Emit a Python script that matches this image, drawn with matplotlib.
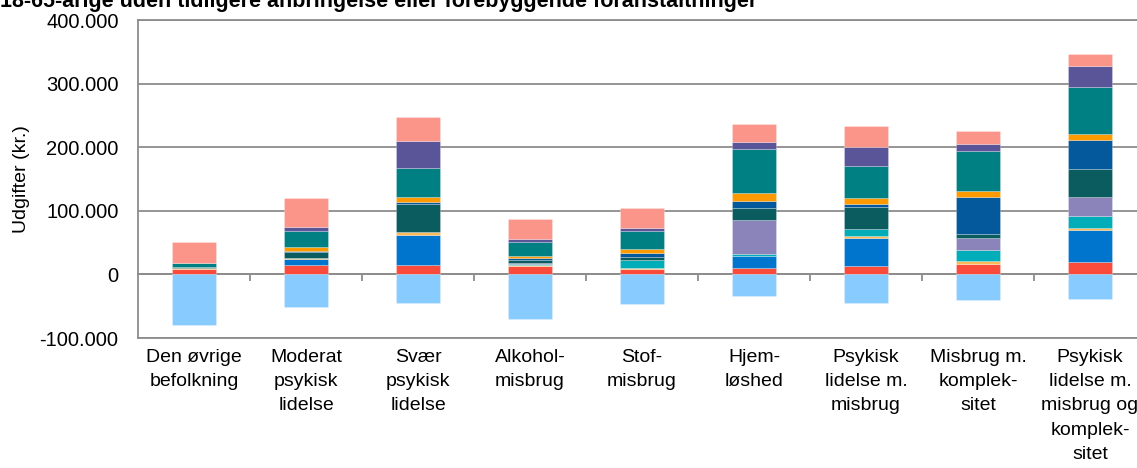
import numpy as np
import matplotlib
matplotlib.use('Agg')
import matplotlib.pyplot as plt
from matplotlib.ticker import FuncFormatter

plt.rcParams['font.family'] = ['Liberation Sans', 'DejaVu Sans']

categories = ['Den øvrige\nbefolkning', 'Moderat\npsykisk\nlidelse', 'Svær\npsykisk\nlidelse',
              'Alkohol-\nmisbrug', 'Stof-\nmisbrug', 'Hjem-\nløshed',
              'Psykisk\nlidelse m.\nmisbrug', 'Misbrug m.\nkomplek-\nsitet',
              'Psykisk\nlidelse m.\nmisbrug og\nkomplek-\nsitet']

# expenses per person in 1000 kr., stacked from the bottom up
red      = [7.9, 14.6, 14.2, 12.5, 8.5, 10.6, 13.1, 16.9, 20.0]
blue     = [0.5, 10.0, 47.6, 0.5, 0.5, 17.8, 44.0, 0.0, 49.9]
yellow   = [1.0, 1.5, 4.7, 1.0, 1.0, 0.0, 3.3, 4.0, 3.7]
cyan     = [0.5, 0.0, 0.0, 2.5, 12.5, 3.1, 10.5, 18.0, 18.3]
lavender = [0.5, 0.0, 0.0, 1.5, 0.5, 54.8, 1.0, 17.8, 29.5]
darkteal = [1.5, 8.5, 44.0, 5.2, 5.0, 17.4, 34.0, 7.4, 44.1]
darkblue = [0.0, 1.6, 2.7, 2.2, 5.5, 11.0, 4.8, 57.8, 45.3]
orange   = [0.5, 6.2, 8.3, 3.6, 6.2, 12.6, 9.5, 9.5, 10.0]
teal     = [5.3, 25.6, 46.0, 21.4, 29.2, 69.4, 51.0, 62.0, 74.6]
purple   = [0.5, 6.3, 41.5, 4.7, 4.2, 11.5, 28.9, 11.5, 31.5]
salmon   = [32.0, 45.6, 39.0, 32.0, 31.0, 28.4, 32.5, 21.0, 20.0]
# income side (negative)
income   = [-80.0, -51.4, -45.0, -70.5, -46.0, -34.2, -45.7, -40.0, -39.4]

series = [
    (red, '#FA4B3B'),
    (blue, '#0075CE'),
    (yellow, '#FDBA57'),
    (cyan, '#00ADB8'),
    (lavender, '#8A84BA'),
    (darkteal, '#0B5C5E'),
    (darkblue, '#04599C'),
    (orange, '#FF9A00'),
    (teal, '#008083'),
    (purple, '#5A5599'),
    (salmon, '#FB958A'),
]

fig = plt.figure(figsize=(11.37, 4.68), dpi=100)
ax = fig.add_axes([138 / 1137, 1 - 338 / 468, 1008 / 1137, 318 / 468])

x = np.arange(len(categories))
width = 0.4
edge = (1, 1, 1, 0.35)

bottom = np.zeros(len(categories))
for vals, col in series:
    v = np.array(vals) * 1000
    ax.bar(x, v, width, bottom=bottom, color=col, edgecolor=edge, linewidth=0.5, zorder=3)
    bottom += v

ax.bar(x, np.array(income) * 1000, width, color='#88CBFF', edgecolor=edge, linewidth=0.5, zorder=3)

grid_col = '#8C8C8C'
ax.set_xlim(-0.5, len(categories) - 0.5)
ax.set_ylim(-100000, 400000)
ax.set_yticks(np.arange(-100000, 400001, 100000))
ax.yaxis.set_major_formatter(FuncFormatter(lambda v, p: f'{int(v):,}'.replace(',', '.')))
ax.yaxis.grid(True, color=grid_col, linewidth=1.3, zorder=0)
ax.set_axisbelow(True)

for s in ['top', 'bottom', 'left']:
    ax.spines[s].set_color(grid_col)
    ax.spines[s].set_linewidth(1.3)
ax.spines['right'].set_visible(False)

ax.tick_params(axis='y', length=0, pad=14, labelsize=14.5)
ax.set_xticks(x)
ax.set_xticklabels(categories, fontsize=14, linespacing=1.55, va='top')
ax.tick_params(axis='x', length=0, pad=8)

# category axis crossing at zero with ticks between the groups
zero_axis = ax.secondary_xaxis(0.2)
zero_axis.set_xticks(np.arange(0.5, len(categories) - 0.5, 1.0))
zero_axis.set_xticklabels([])
zero_axis.tick_params(axis='x', direction='out', length=5, width=1.3, color=grid_col)
zero_axis.spines['bottom'].set_color(grid_col)
zero_axis.spines['bottom'].set_linewidth(1.3)

ax.set_ylabel('Udgifter (kr.)', fontsize=14, labelpad=7)

fig.text(0.0, 1 - 7 / 468, '18-65-årige uden tidligere anbringelse eller forebyggende foranstaltninger',
         fontsize=15.5, fontweight='bold', ha='left', va='baseline')

fig.savefig('out.png', dpi=100)
